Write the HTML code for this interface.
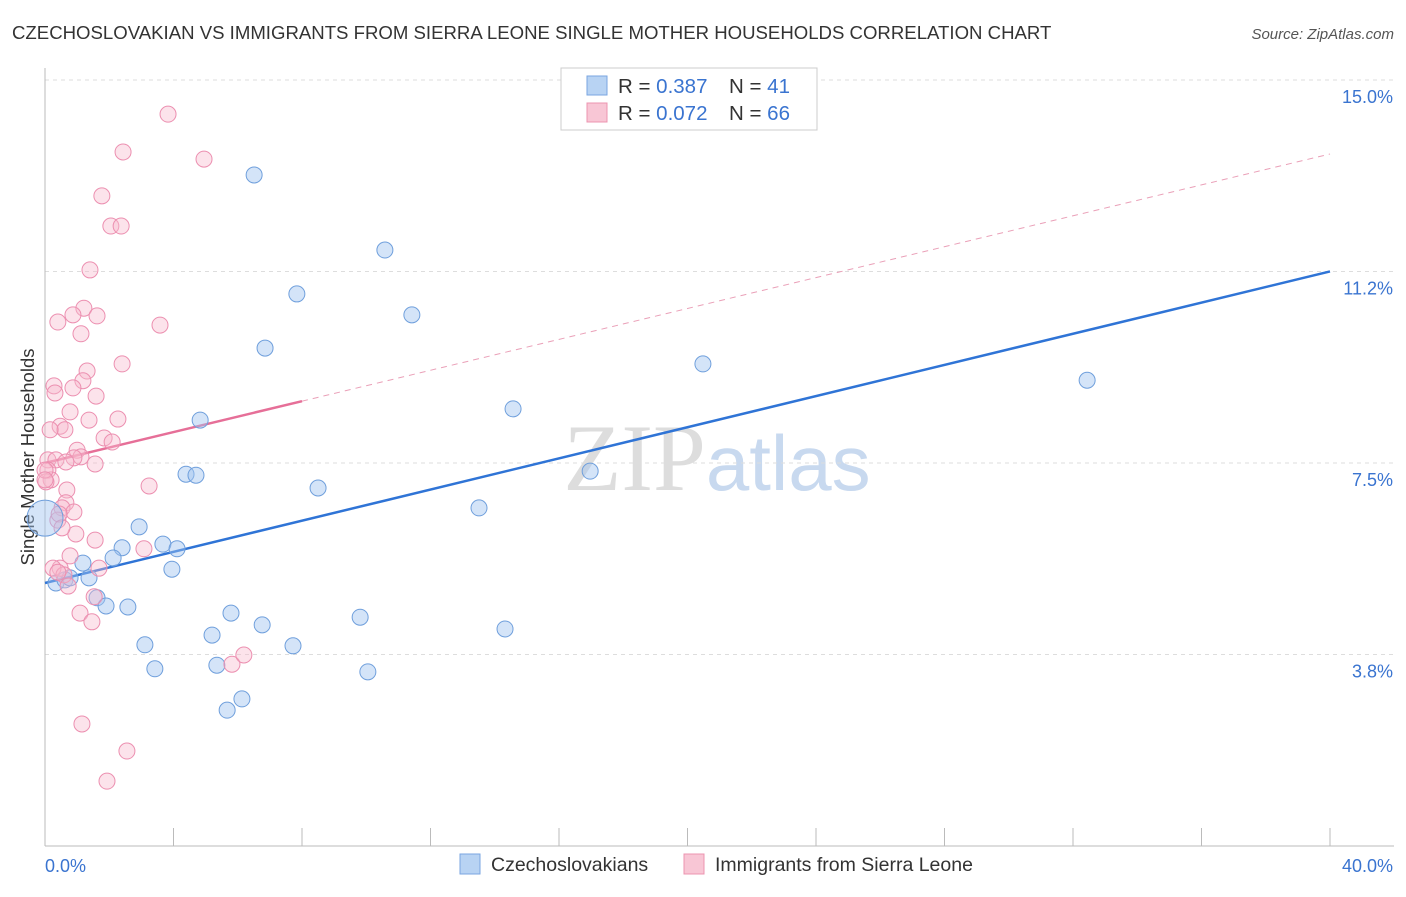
<!DOCTYPE html>
<html><head><meta charset="utf-8"><style>
body{margin:0;background:#fff;font-family:"Liberation Sans",sans-serif}
svg text{font-family:"Liberation Sans",sans-serif}
</style></head><body>
<svg id="chart" width="1406" height="892" xmlns="http://www.w3.org/2000/svg">
<text x="12" y="39" font-size="18.6" fill="#333">CZECHOSLOVAKIAN VS IMMIGRANTS FROM SIERRA LEONE SINGLE MOTHER HOUSEHOLDS CORRELATION CHART</text>
<text x="1394" y="39" font-size="15" fill="#555" text-anchor="end" font-style="italic">Source: ZipAtlas.com</text>
<text transform="translate(34,457) rotate(-90)" font-size="18.5" fill="#333" text-anchor="middle">Single Mother Households</text>
<text x="717" y="490" font-size="95" text-anchor="middle"><tspan fill="#ddd" font-family="Liberation Serif">ZIP</tspan><tspan fill="#c8d9ef" font-size="78">atlas</tspan></text>
<g id="grid"></g><g id="axes"></g><g id="lines"></g><g id="pts"></g>
<g>
<rect x="561" y="68" width="256" height="62" fill="#fff" stroke="#ccc"/>
<rect x="587" y="76" width="20" height="19" fill="#b8d3f3" stroke="#7aa6e0"/>
<rect x="587" y="103" width="20" height="19" fill="#f8c6d5" stroke="#ec94b0"/>
<text x="618" y="93" font-size="20.5" fill="#333">R = <tspan fill="#3a74d0">0.387</tspan></text>
<text x="729" y="93" font-size="20.5" fill="#333">N = <tspan fill="#3a74d0"> 41</tspan></text>
<text x="618" y="120" font-size="20.5" fill="#333">R = <tspan fill="#3a74d0">0.072</tspan></text>
<text x="729" y="120" font-size="20.5" fill="#333">N = <tspan fill="#3a74d0">66</tspan></text>
</g>
<g>
<rect x="460" y="854" width="20" height="20" fill="#b8d3f3" stroke="#7aa6e0"/>
<text x="491" y="871" font-size="19.5" fill="#333">Czechoslovakians</text>
<rect x="684" y="854" width="20" height="20" fill="#f8c6d5" stroke="#ec94b0"/>
<text x="715" y="871" font-size="19.5" fill="#333">Immigrants from Sierra Leone</text>
</g>
</svg>
<script>
const blueX=[6.51,10.58,7.84,11.42,6.85,20.48,32.44,14.57,4.83,4.39,4.70,8.50,16.97,13.51,2.93,2.40,3.67,4.11,2.12,1.18,3.95,0.34,0.62,1.37,1.62,1.90,2.58,5.79,9.81,6.76,5.20,14.32,3.11,7.72,3.42,5.35,10.05,6.13,5.67,0.78];
const blueY=[13.14,11.67,10.81,10.40,9.75,9.44,9.12,8.56,8.34,7.28,7.26,7.01,7.34,6.62,6.25,5.84,5.91,5.82,5.64,5.54,5.42,5.15,5.21,5.25,4.86,4.70,4.68,4.56,4.48,4.33,4.13,4.25,3.94,3.92,3.47,3.54,3.41,2.88,2.66,5.25];
const pinkX=[3.83,2.43,4.95,1.77,2.05,2.37,1.40,1.21,0.40,0.87,1.62,3.58,1.12,2.40,1.31,1.18,0.28,0.31,0.87,1.59,0.78,1.37,2.27,0.47,0.62,0.16,1.84,2.09,1.00,1.12,0.90,0.09,0.34,1.56,0.65,0.09,0.19,3.24,0.03,0.68,0.65,0.53,0.90,0.40,0.44,0.96,1.56,3.08,0.78,1.68,0.47,0.25,0.59,0.72,1.53,1.09,1.46,5.82,6.19,1.15,2.55,1.93,0,0,0.53,0.40];
const pinkY=[14.33,13.59,13.45,12.73,12.14,12.14,11.28,10.53,10.26,10.40,10.38,10.20,10.03,9.44,9.30,9.11,9.01,8.87,8.97,8.81,8.50,8.34,8.36,8.22,8.15,8.15,7.99,7.91,7.75,7.62,7.60,7.56,7.56,7.48,7.52,7.36,7.17,7.05,7.13,6.97,6.72,6.62,6.54,6.38,6.50,6.11,5.99,5.82,5.68,5.44,5.44,5.44,5.31,5.09,4.88,4.56,4.39,3.56,3.74,2.39,1.86,1.27,7.36,7.17,6.23,5.36];
const yTicks=[15.0,11.25,7.5,3.75];
const yTickLabels=["15.0%","11.2%","7.5%","3.8%"];
const blueLine=[5.15,11.25];
const pinkLine=[7.5,13.55];
const X=v=>45+v/40*1285, Y=v=>846-v*51.07;
const NS="http://www.w3.org/2000/svg";
function mk(p,t,a){const e=document.createElementNS(NS,t);for(const k in a)e.setAttribute(k,a[k]);document.getElementById(p).appendChild(e);return e;}
yTicks.forEach((t,i)=>{
 const l=mk('grid','line',{x1:45,x2:1394,y1:Y(t),y2:Y(t),stroke:'#ddd','stroke-dasharray':'4,4'});
 
 
 const tx=mk('grid','text',{x:1393,y:Y(t)+23,'font-size':18,fill:'#3a74d0','text-anchor':'end'});tx.textContent=yTickLabels[i];
 
 
});
mk('axes','line',{x1:45,x2:45,y1:68,y2:846,stroke:'#bbb'});
mk('axes','line',{x1:45,x2:1394,y1:846,y2:846,stroke:'#bbb'});
for(let i=0;i<=10;i++){mk('axes','line',{x1:X(i*4),x2:X(i*4),y1:828,y2:846,stroke:'#bbb'});}
let t=mk('axes','text',{x:45,y:872,'font-size':18,fill:'#3a74d0'});t.textContent='0.0%';


t=mk('axes','text',{x:1393,y:872,'font-size':18,fill:'#3a74d0','text-anchor':'end'});t.textContent='40.0%';


blueX.forEach((x,i)=>{const c=mk('pts','circle',{cx:X(x),cy:Y(blueY[i]),r:8,fill:'rgba(160,195,240,0.45)',stroke:'#6f9fdc','stroke-width':1});
 
 });
pinkX.forEach((x,i)=>{const c=mk('pts','circle',{cx:X(x),cy:Y(pinkY[i]),r:8,fill:'rgba(248,185,205,0.4)',stroke:'#ec8fb0','stroke-width':1});
 
 });
const big=mk('pts','circle',{cx:X(0),cy:Y(6.42),r:18,fill:'rgba(160,195,240,0.45)',stroke:'#6f9fdc'});


let bl=mk('lines','line',{x1:X(0),y1:Y(blueLine[0]),x2:X(40),y2:Y(blueLine[1]),stroke:'#2f74d6','stroke-width':2.5});


const ps=(pinkLine[1]-pinkLine[0])/40;
let pd=mk('lines','line',{x1:X(8),y1:Y(pinkLine[0]+ps*8),x2:X(40),y2:Y(pinkLine[1]),stroke:'#eaa0b8','stroke-width':1,'stroke-dasharray':'6,5'});


let pl=mk('lines','line',{x1:X(0),y1:Y(pinkLine[0]),x2:X(8),y2:Y(pinkLine[0]+ps*8),stroke:'#e66f98','stroke-width':2.5});


</script>
</body></html>
